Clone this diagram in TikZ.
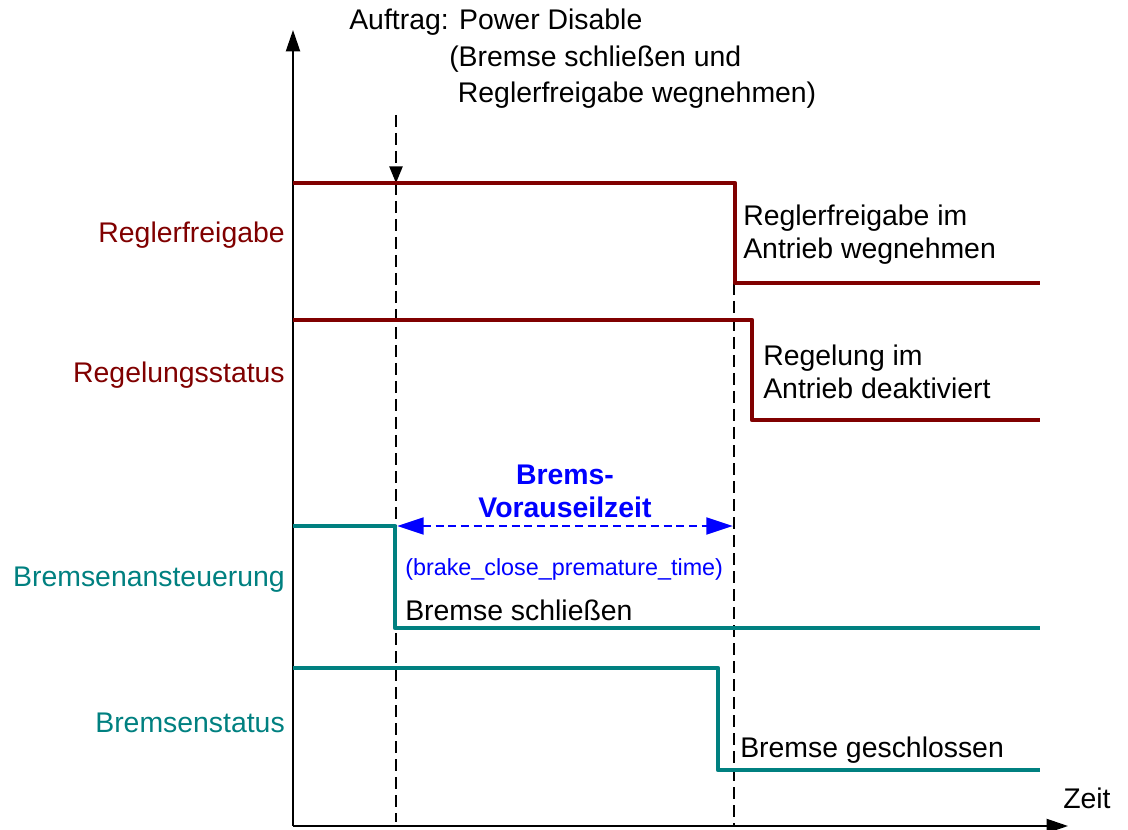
\documentclass[tikz,border=0pt]{standalone}
\usepackage{fontspec}
\setmainfont{Liberation Sans}
\usepackage{xcolor}
\usetikzlibrary{arrows.meta, positioning}

\definecolor{sigred}{HTML}{800000}
\definecolor{sigteal}{HTML}{008080}
\newcommand{\sigfont}{\fontsize{21.3}{24.8}\selectfont}
\newcommand{\parfont}{\fontsize{17.5}{20}\selectfont}

\begin{document}
\begin{tikzpicture}[x=0.75pt, y=-0.75pt, >=Latex]
    \tikzstyle{axis} = [draw, line width=1.5pt, -{Triangle[length=16pt, width=10.5pt]}]
    \tikzstyle{redsig} = [draw, sigred, line width=3.5pt, line join=round]
    \tikzstyle{tealsig} = [draw, sigteal, line width=3.5pt, line join=round]
    \tikzstyle{marker} = [draw, line width=1.1pt, dash pattern=on 9pt off 4.5pt]
    \tikzstyle{span} = [draw, blue, line width=2.2pt, dash pattern=on 6pt off 3.5pt, {Triangle[length=20pt, width=12.5pt]}-{Triangle[length=20pt, width=12.5pt]}]
    \tikzstyle{signame} = [anchor=east, inner sep=0pt, font=\sigfont]
    \tikzstyle{remark} = [anchor=west, inner sep=0pt, align=left, font=\sigfont]

    \useasboundingbox (0,0) rectangle (1128,830);

    % axes
    \coordinate (origin) at (293,826);
    \coordinate (ytop) at (293,30);
    \coordinate (xend) at (1068,826);
    \path [axis] (origin) -- (ytop);
    \path [axis] (origin) -- (xend);
    \node [remark] (time) at (1063,798) {Zeit};

    % signal names
    \node [signame, sigred] (rf) at (285,235) {Reglerfreigabe};
    \node [signame, sigred] (rs) at (285,375) {Regelungsstatus};
    \node [signame, sigteal] (ba) at (285,580) {Bremsenansteuerung};
    \node [signame, sigteal] (bs) at (285,723) {Bremsenstatus};

    % request marker
    \coordinate (reqtop) at (396,115);
    \coordinate (reqhit) at (396,183);
    \coordinate (reqbot) at (396,822);
    \path [marker, ->, >={Triangle[length=12.5pt, width=10pt]}] (reqtop) -- (reqhit);
    \path [marker] (reqhit) -- (reqbot);
    \coordinate (offtop) at (734,283);
    \coordinate (offbot) at (734,826);
    \path [marker] (offtop) -- (offbot);

    % signals
    \path [redsig] (293,183) -- (735,183) -- (735,283) -- (1040,283);
    \path [redsig] (293,320) -- (752,320) -- (752,420) -- (1040,420);
    \path [tealsig] (293,526) -- (395,526) -- (395,628) -- (1040,628);
    \path [tealsig] (293,668) -- (718,668) -- (718,770) -- (1040,770);

    % lead time
    \coordinate (leadL) at (397,526);
    \coordinate (leadR) at (733,526);
    \path [span] (leadL) -- (leadR);
    \node [blue, inner sep=0pt, align=center, font=\sigfont\bfseries] (lead) at (565,491) {Brems-\\Vorauseilzeit};
    \node [remark, blue, font=\parfont] (param) at (405,569) {(brake\_close\_premature\_time)};

    % notes
    \node [remark] (order) at (349,59) {Auftrag: Power Disable\\[2.5pt]\hspace*{75pt}(Bremse schließen und\\[2.5pt]\hspace*{81.5pt}Reglerfreigabe wegnehmen)};
    \node [remark] (rfnote) at (743,235) {Reglerfreigabe im\\Antrieb wegnehmen};
    \node [remark] (rsnote) at (763,372) {Regelung im\\Antrieb deaktiviert};
    \node [remark] (close) at (405,610) {Bremse schließen};
    \node [remark] (closed) at (740,750) {Bremse geschlossen};
\end{tikzpicture}
\end{document}
